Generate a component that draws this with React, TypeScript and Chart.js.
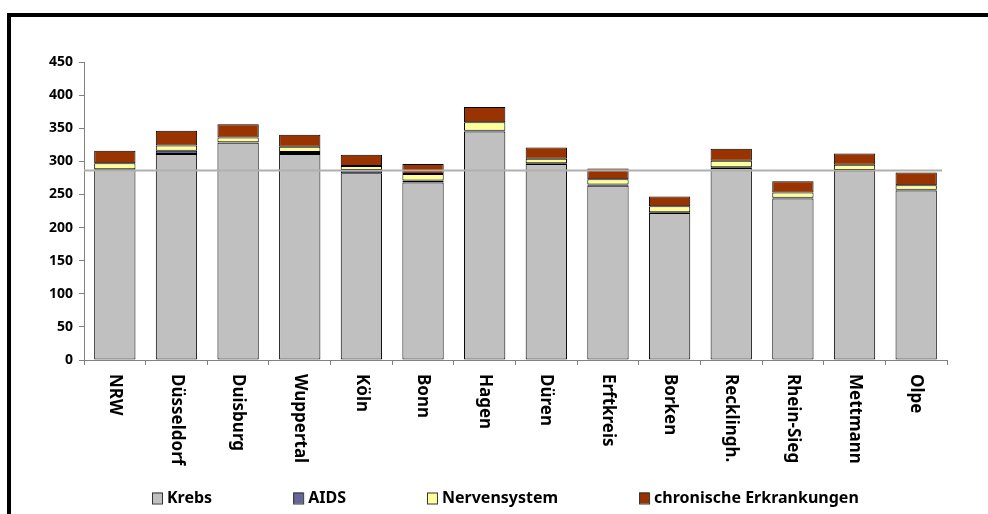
import React, { useEffect, useRef } from "react";
import { Chart, registerables } from "chart.js";

Chart.register(...registerables);

const categories = [
  "NRW", "Düsseldorf", "Duisburg", "Wuppertal", "Köln", "Bonn", "Hagen",
  "Düren", "Erftkreis", "Borken", "Recklingh.", "Rhein-Sieg", "Mettmann", "Olpe",
];
const krebs = [287, 311, 328, 311, 282, 268, 345, 296, 263, 222, 290, 244, 286, 256];
const aids = [1, 5, 1, 3, 5, 3, 1, 1, 2, 1, 1, 1, 1, 1];
const nervensystem = [9, 8, 7, 8, 6, 10, 13, 7, 8, 9, 10, 8, 8, 7];
const chronisch = [19, 22, 20, 18, 17, 15, 23, 17, 16, 15, 18, 17, 17, 19];
const seriesLabels = ["Krebs", "AIDS", "Nervensystem", "chronische Erkrankungen"];
const seriesColors = ["#C0C0C0", "#666699", "#FFFF99", "#993300"];
const referenceValue = 286;
const yMin = 0;
const yMax = 450;
const yStep = 50;

const FONT = "'Noto Sans', 'DejaVu Sans', sans-serif";

const framePlugin = {
  id: "frame",
  beforeDraw(chart: any) {
    const ctx = chart.ctx;
    ctx.save();
    ctx.fillStyle = "#fff";
    ctx.fillRect(0, 0, chart.width, chart.height);
    ctx.fillStyle = "#000";
    ctx.fillRect(7, 13, chart.width - 7, 4);
    ctx.fillRect(7, 13, 4, chart.height - 13);
    ctx.restore();
  },
};

const refLinePlugin = {
  id: "refLine",
  afterDatasetsDraw(chart: any) {
    const { ctx, chartArea, scales } = chart;
    const y = scales.y.getPixelForValue(referenceValue);
    ctx.save();
    ctx.strokeStyle = "#B0B0B0";
    ctx.lineWidth = 2;
    ctx.beginPath();
    ctx.moveTo(chartArea.left, y);
    ctx.lineTo(chartArea.right - 5, y);
    ctx.stroke();
    ctx.restore();
  },
};

const xLabelPlugin = {
  id: "xLabels",
  afterDraw(chart: any) {
    const { ctx, chartArea, scales } = chart;
    ctx.save();
    ctx.fillStyle = "#000";
    ctx.font = `bold 17px ${FONT}`;
    ctx.textAlign = "left";
    ctx.textBaseline = "middle";
    categories.forEach((label, i) => {
      const x = scales.x.getPixelForValue(i);
      ctx.save();
      ctx.translate(x, chartArea.bottom + 14);
      ctx.rotate(Math.PI / 2);
      ctx.fillText(label, 0, 0);
      ctx.restore();
    });
    ctx.restore();
  },
};

const legendPlugin = {
  id: "customLegend",
  afterDraw(chart: any) {
    const ctx = chart.ctx;
    ctx.save();
    ctx.font = `bold 16px ${FONT}`;
    ctx.textBaseline = "middle";
    ctx.textAlign = "left";
    let x = 152;
    const cy = 498;
    seriesLabels.forEach((label, i) => {
      ctx.fillStyle = seriesColors[i];
      ctx.fillRect(x, cy - 5.5, 10, 11);
      ctx.strokeStyle = "#333";
      ctx.lineWidth = 1;
      ctx.strokeRect(x + 0.5, cy - 5, 10, 11);
      ctx.fillStyle = "#000";
      ctx.fillText(label, x + 15, cy);
      x += 15 + ctx.measureText(label).width + 81;
    });
    ctx.restore();
  },
};

export default function App() {
  const canvasRef = useRef<HTMLCanvasElement | null>(null);

  useEffect(() => {
    if (!canvasRef.current) return;
    Chart.defaults.font.family = FONT;
    const series = [krebs, aids, nervensystem, chronisch];
    const chart = new Chart(canvasRef.current, {
      type: "bar",
      data: {
        labels: categories,
        datasets: series.map((data, i) => ({
          label: seriesLabels[i],
          data,
          backgroundColor: seriesColors[i],
          borderColor: "#000",
          borderWidth: 1,
          borderSkipped: false,
          barPercentage: 0.67,
          categoryPercentage: 1,
        })),
      },
      options: {
        animation: false,
        responsive: false,
        layout: { padding: { top: 62, right: 41, left: 0, bottom: 0 } },
        plugins: {
          legend: { display: false },
          tooltip: { enabled: false },
        },
        scales: {
          x: {
            stacked: true,
            grid: {
              offset: true,
              drawOnChartArea: false,
              drawTicks: true,
              tickLength: 5,
              color: "#808080",
            },
            border: { color: "#808080", width: 1 },
            ticks: { display: false },
            afterFit: (s: any) => {
              s.height = 154;
            },
          },
          y: {
            stacked: true,
            min: yMin,
            max: yMax,
            ticks: {
              stepSize: yStep,
              color: "#000",
              padding: 6,
              font: { family: FONT, weight: "bold", size: 14 },
            },
            grid: {
              drawOnChartArea: false,
              drawTicks: true,
              tickLength: 5,
              color: "#808080",
            },
            border: { color: "#808080", width: 1 },
            afterFit: (s: any) => {
              s.width = 84;
            },
          },
        },
      },
      plugins: [framePlugin, refLinePlugin, xLabelPlugin, legendPlugin],
    });
    return () => chart.destroy();
  }, []);

  return (
    <div style={{ position: "absolute", left: 0, top: 0, width: 988, height: 514 }}>
      <canvas ref={canvasRef} width={988} height={514} />
    </div>
  );
}
